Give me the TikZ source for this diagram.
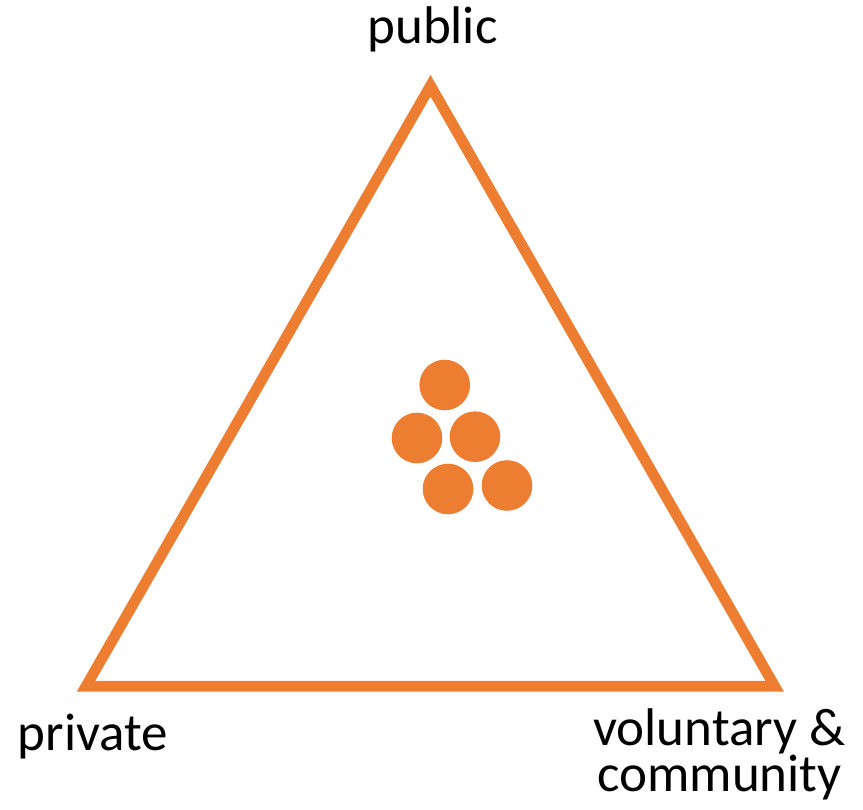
\documentclass[tikz,border=0pt]{standalone}
\usepackage{fontspec}
\setmainfont{Carlito}
\usepackage{tikz}
\definecolor{sectororange}{RGB}{237,125,49}
\tikzset{
  sectorlabel/.style={font=\fontsize{53}{46.7}\selectfont, text=black,
    align=center, inner sep=0pt, anchor=base},
  triframe/.style={draw=sectororange, line width=10.7pt, line join=miter},
  partner/.style={circle, fill=sectororange, draw=none, minimum size=50.6pt,
    inner sep=0pt},
}

\begin{document}
\begin{tikzpicture}[x=1pt, y=-1pt]
  \useasboundingbox (0,0) rectangle (863,810);

  % corners of the triangle
  \coordinate (pub)  at (430.5,85.7);
  \coordinate (priv) at (86,686.3);
  \coordinate (vol)  at (774.7,686.3);
  \draw[triframe] (pub) -- (priv) -- (vol) -- cycle;

  % sector names
  \node[sectorlabel] (publbl)  at (432.5,44)  {public};
  \node[sectorlabel] (privlbl) at (92.8,750.7) {private};
  \node[sectorlabel] (vollbl)  at (719.5,791.7) {voluntary \&\\community};

  % cluster of partners in the middle
  \node[partner] (p1) at (444.7,385) {};
  \node[partner] (p2) at (417,438)   {};
  \node[partner] (p3) at (475,436.7) {};
  \node[partner] (p4) at (448,489)   {};
  \node[partner] (p5) at (507,485.5) {};
\end{tikzpicture}
\end{document}
